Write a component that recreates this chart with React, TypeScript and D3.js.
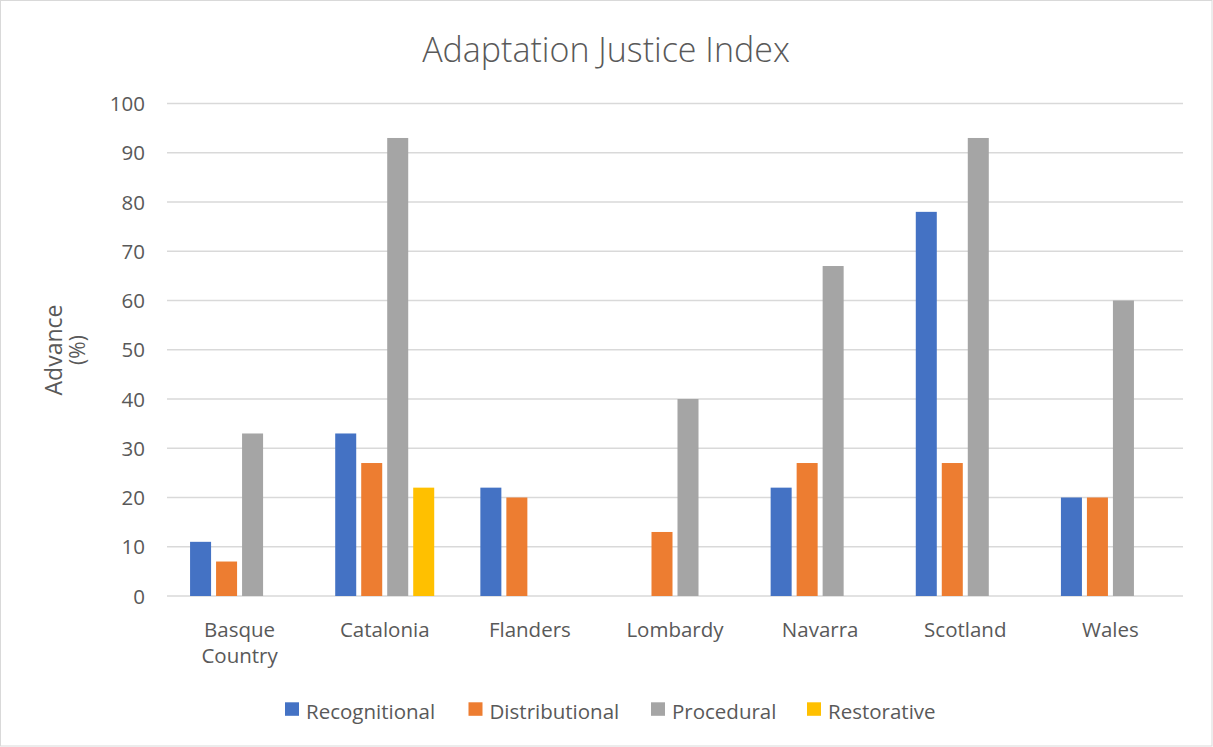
import React from "react";
import * as d3 from "d3";

const categories = ["Basque Country", "Catalonia", "Flanders", "Lombardy", "Navarra", "Scotland", "Wales"];
const categoryLines = [["Basque", "Country"], ["Catalonia"], ["Flanders"], ["Lombardy"], ["Navarra"], ["Scotland"], ["Wales"]];
const seriesNames = ["Recognitional", "Distributional", "Procedural", "Restorative"];
const seriesColors = ["#4472C4", "#ED7D31", "#A5A5A5", "#FFC000"];
const recognitional = [11, 33, 22, 0, 22, 78, 20];
const distributional = [7, 27, 20, 13, 27, 27, 20];
const procedural = [33, 93, 0, 40, 67, 93, 60];
const restorative = [0, 22, 0, 0, 0, 0, 0];
const yTicks = [0, 10, 20, 30, 40, 50, 60, 70, 80, 90, 100];

const W = 1213, H = 747;
const left = 167, right = 1183, top = 103.5, bottom = 596;
const font = "'Open Sans', sans-serif";
const textColor = "#595959";

export default function App() {
  const values = [recognitional, distributional, procedural, restorative];
  const x0 = d3.scaleBand<string>().domain(categories).range([left, right]).padding(0);
  const x1 = d3.scaleBand<string>().domain(seriesNames).range([0, 104]).paddingInner(0.192).paddingOuter(0.096);
  const y = d3.scaleLinear().domain([0, 100]).range([bottom, top]);

  const legendX = [285, 468.5, 651, 807];

  return (
    <svg width={W} height={H} style={{ position: "absolute", left: 0, top: 0, background: "#fff" }}>
      <rect x={0.5} y={0.5} width={W - 1.5} height={H - 1.5} fill="#fff" stroke="#d9d9d9" />
      <text x={606} y={62} textAnchor="middle" fontFamily={font} fontWeight={300} fontSize={34} fill={textColor}>
        Adaptation Justice Index
      </text>
      {yTicks.map((t) => (
        <g key={t}>
          <line x1={left} x2={right} y1={y(t)} y2={y(t)} stroke="#d9d9d9" strokeWidth={1.3} />
          <text x={145} y={y(t) + 7.5} textAnchor="end" fontFamily={font} fontSize={20.5} fill={textColor}>{t}</text>
        </g>
      ))}
      <g transform="translate(62,350) rotate(-90)">
        <text x={0} y={0} textAnchor="middle" fontFamily={font} fontSize={23} fill={textColor}>Advance</text>
        <text x={0} y={23} textAnchor="middle" fontFamily={font} fontSize={21} fill={textColor}>(%)</text>
      </g>
      {categories.map((c, i) => {
        const cx = (x0(c) as number) + x0.bandwidth() / 2;
        const gx = cx - 52;
        return (
          <g key={c}>
            {seriesNames.map((s, j) => {
              const v = values[j][i];
              if (!v) return null;
              return (
                <rect key={s} x={gx + (x1(s) as number)} width={x1.bandwidth()} y={y(v)} height={y(0) - y(v)} fill={seriesColors[j]} />
              );
            })}
            {categoryLines[i].map((ln, k) => (
              <text key={k} x={cx} y={636.5 + k * 26.5} textAnchor="middle" fontFamily={font} fontSize={20.5} fill={textColor}>{ln}</text>
            ))}
          </g>
        );
      })}
      {seriesNames.map((s, j) => (
        <g key={s}>
          <rect x={legendX[j]} y={702.3} width={14} height={13.5} fill={seriesColors[j]} />
          <text x={legendX[j] + 21} y={719} fontFamily={font} fontSize={20.5} fill={textColor}>{s}</text>
        </g>
      ))}
    </svg>
  );
}
